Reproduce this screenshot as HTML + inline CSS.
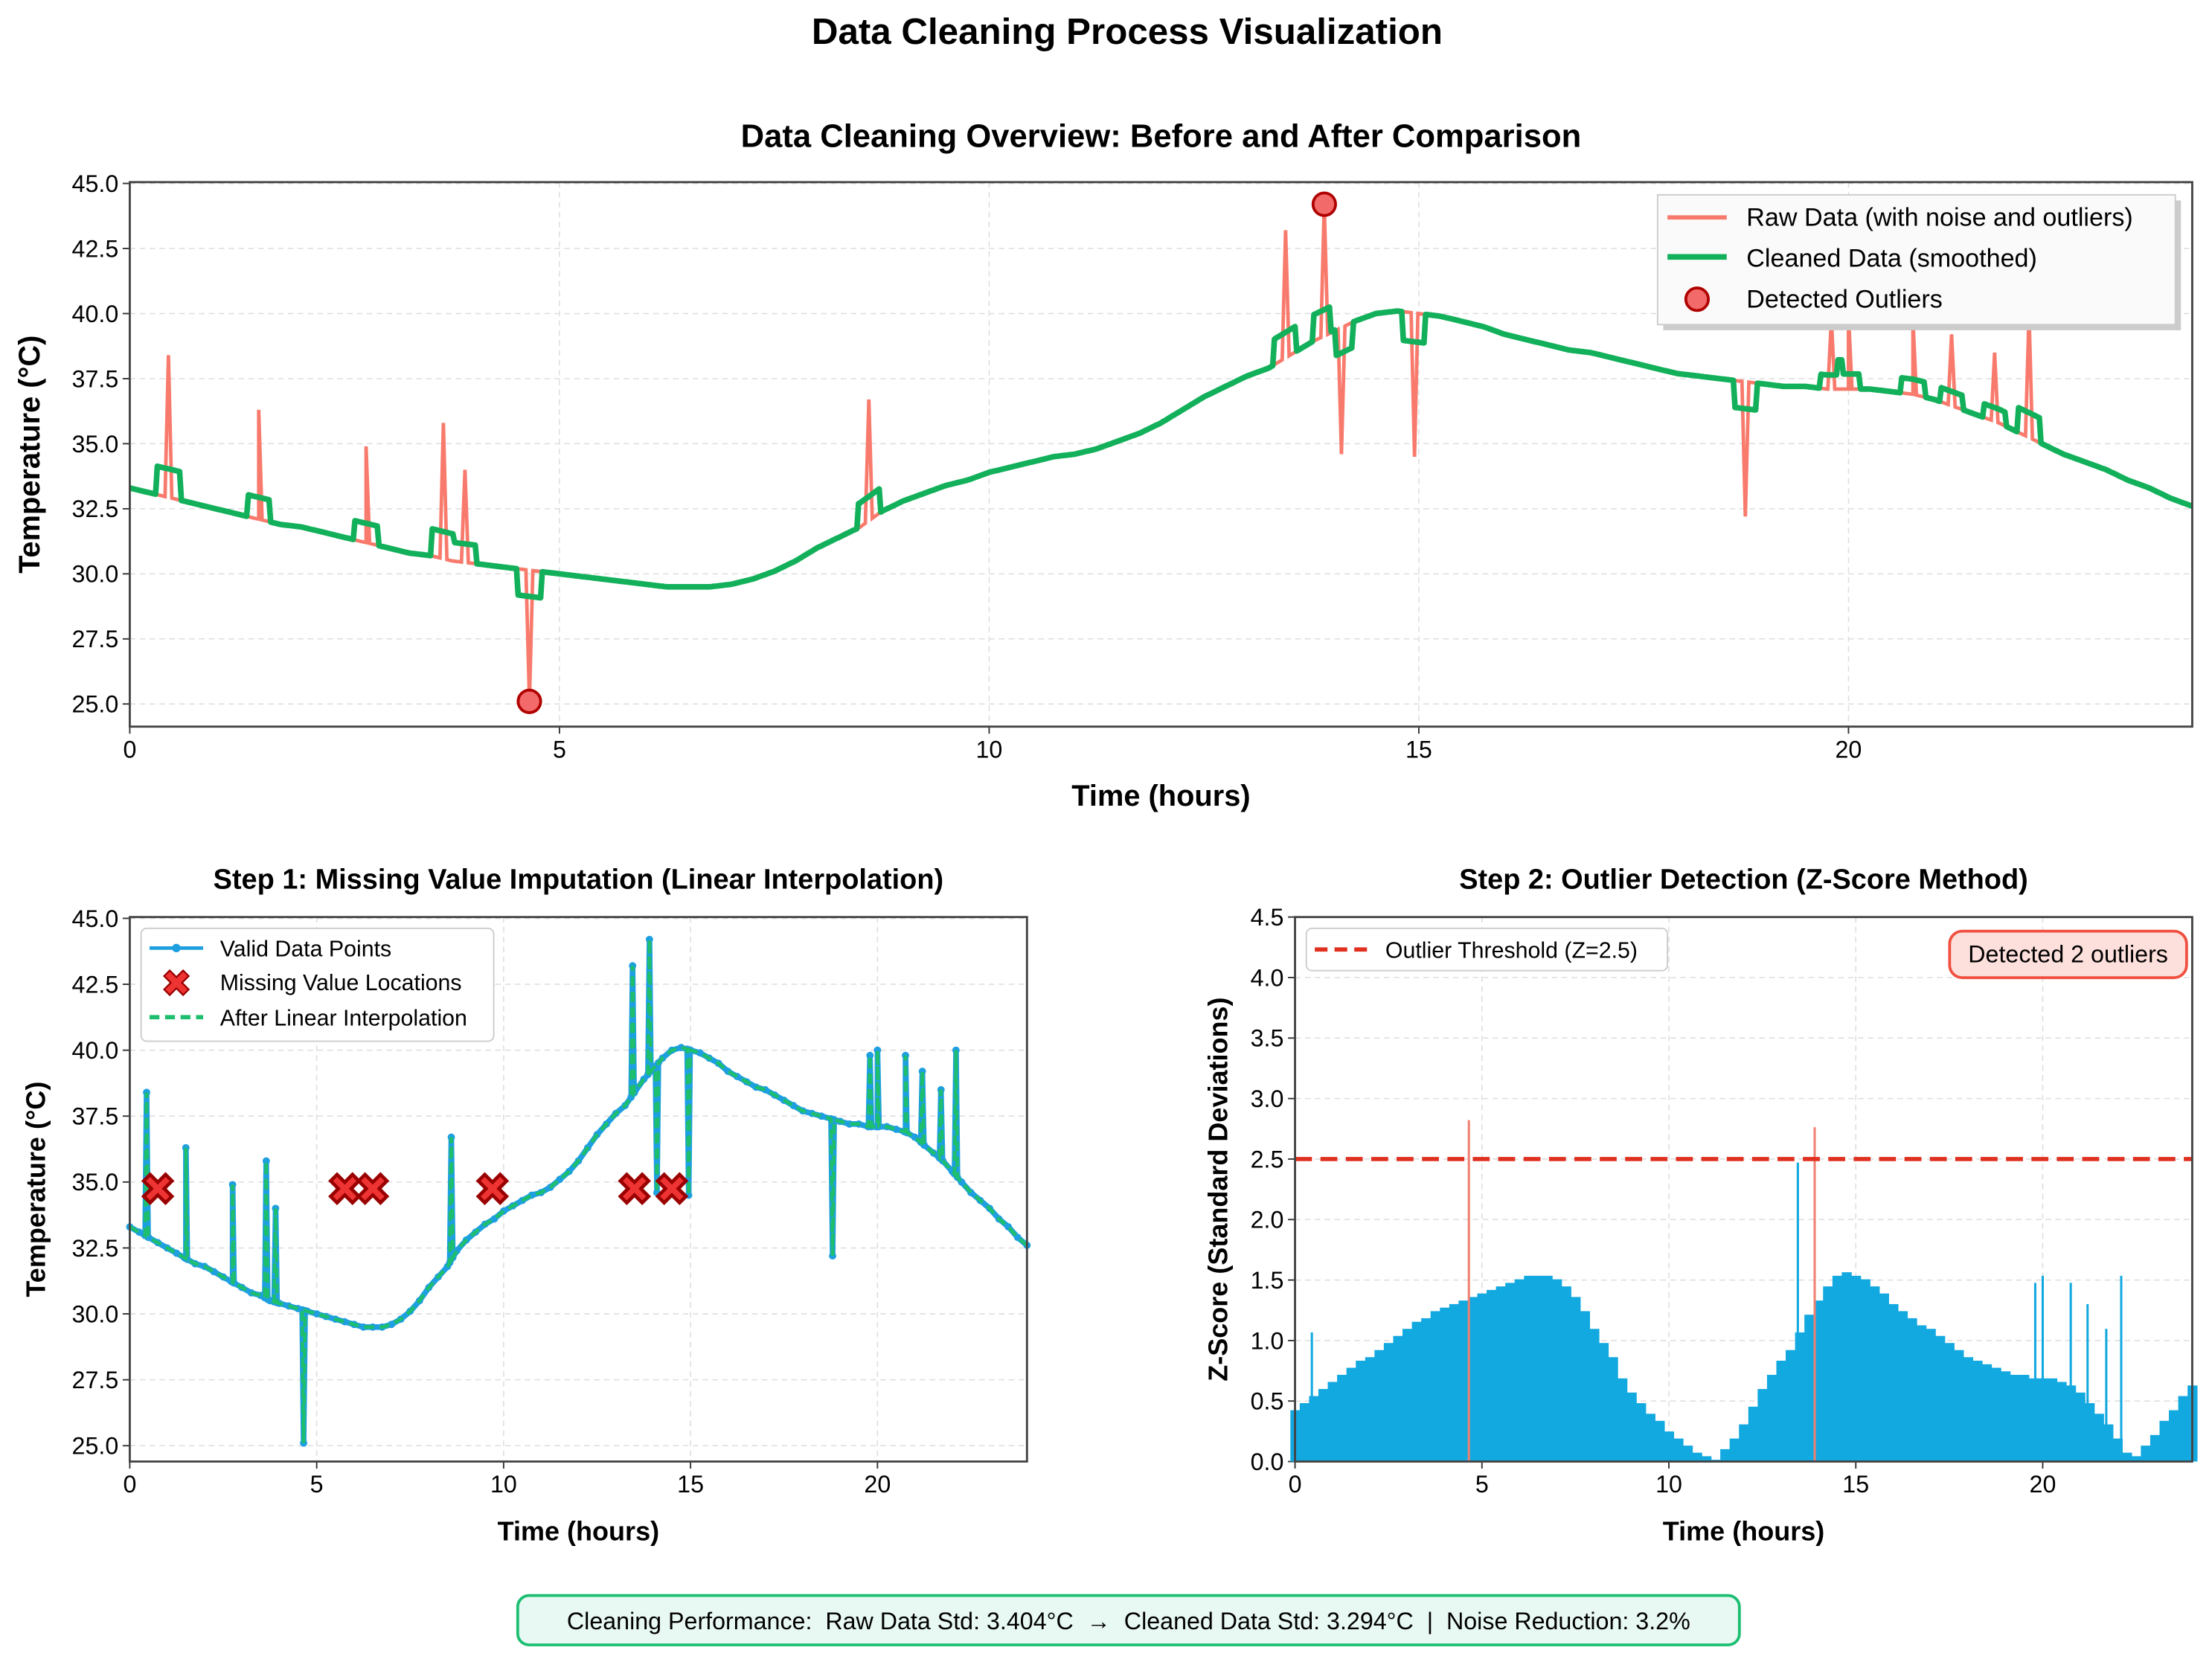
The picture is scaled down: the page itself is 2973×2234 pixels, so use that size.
<!DOCTYPE html>
<html><head><meta charset="utf-8"><style>
html,body{margin:0;padding:0;background:#fff;}
svg{display:block;font-family:"Liberation Sans",sans-serif;}
</style></head><body>
<svg id="fig" width="2973" height="2234" viewBox="0 0 1568 1178" xmlns="http://www.w3.org/2000/svg">
<rect width="1568" height="1178" fill="#fff"/>
<text x="799" y="31" text-anchor="middle" font-size="26" font-weight="bold">Data Cleaning Process Visualization</text>
<text x="823" y="104" text-anchor="middle" font-size="23" font-weight="bold">Data Cleaning Overview: Before and After Comparison</text>
<text x="410" y="630" text-anchor="middle" font-size="20" font-weight="bold">Step 1: Missing Value Imputation (Linear Interpolation)</text>
<text x="1236" y="630" text-anchor="middle" font-size="20" font-weight="bold">Step 2: Outlier Detection (Z-Score Method)</text>
<g id="top"></g><g id="bl"></g><g id="br"></g>
<g>
<rect x="367" y="1131" width="866" height="35" rx="8" fill="#e8f8f2" stroke="#1bbf72" stroke-width="2"/>
<text x="800" y="1155" text-anchor="middle" font-size="17" xml:space="preserve">Cleaning Performance:  Raw Data Std: 3.404°C  →  Cleaned Data Std: 3.294°C  |  Noise Reduction: 3.2%</text>
</g>
</svg>
<script>
const times=[];for(let i=0;i<=96;i++)times.push(i*0.25);
const baseTemp=[33.3,33.1,32.9,32.7,32.5,32.3,32.1,31.9,31.8,31.6,31.4,31.2,31.0,30.8,30.7,30.5,30.4,30.3,30.2,30.1,30.0,29.9,29.8,29.7,29.6,29.5,29.5,29.5,29.6,29.8,30.1,30.5,31.0,31.4,31.8,32.4,32.8,33.1,33.4,33.6,33.9,34.1,34.3,34.5,34.6,34.8,35.1,35.4,35.8,36.3,36.8,37.2,37.6,37.9,38.4,38.9,39.3,39.7,40.0,40.1,40.0,39.9,39.7,39.5,39.2,39.0,38.8,38.6,38.5,38.3,38.1,37.9,37.7,37.6,37.5,37.4,37.3,37.2,37.2,37.1,37.1,37.1,37.0,36.9,36.7,36.4,36.1,35.8,35.4,35.0,34.6,34.3,34.0,33.6,33.3,32.9,32.6];
const spikeTimes=[0.45,1.5,2.75,3.65,3.9,4.65,8.6,13.45,13.9,14.1,14.95,18.8,19.8,20.0,20.75,21.2,21.7,22.1];
const spikeValues=[38.4,36.3,34.9,35.8,34.0,25.1,36.7,43.2,44.2,34.6,34.5,32.2,39.8,40.0,39.8,39.2,38.5,40.0];
const outlierTimes=[4.65,13.9];
const outlierValues=[25.1,44.2];
const missingTimes=[0.75,5.75,6.5,9.7,13.5,14.5];
const missingY=34.7;
const zMean=34.75, zStd=3.42, zThresh=2.5;
const NS='http://www.w3.org/2000/svg';
function mk(tag,at,parent){const e=document.createElementNS(NS,tag);for(const k in at)e.setAttribute(k,at[k]);parent.appendChild(e);return e;}
function baseAt(t){t=Math.max(0,Math.min(24,t));const i=Math.min(95,Math.floor(t/0.25));const f=(t-times[i])/0.25;return baseTemp[i]*(1-f)+baseTemp[i+1]*f;}
function rawSeries(){const pts=times.map((t,i)=>[t,baseTemp[i]]);spikeTimes.forEach((t,k)=>{pts.push([t-0.04,baseAt(t-0.04)]);pts.push([t,spikeValues[k]]);pts.push([t+0.04,baseAt(t+0.04)]);});pts.sort((a,b)=>a[0]-b[0]);return pts;}
function cleanSeries(){const pts=[];for(let s=0;s<=1200;s++){const t=s*0.02;let v=baseAt(t);
 spikeTimes.forEach((st,k)=>{if(Math.abs(t-st)<=0.13)v+=(spikeValues[k]-baseAt(st))/5;});pts.push([t,v]);}return pts;}
function axes(g,o){const X=v=>o.x0+(v-o.xmin)/(o.xmax-o.xmin)*(o.x1-o.x0);const Y=v=>o.y1-(v-o.ymin)/(o.ymax-o.ymin)*(o.y1-o.y0);
 o.xt.forEach(v=>{mk('line',{x1:X(v),x2:X(v),y1:o.y0,y2:o.y1,stroke:'#ddd','stroke-dasharray':'4,3','stroke-width':0.8},g);
  const l=mk('line',{x1:X(v),x2:X(v),y1:o.y1,y2:o.y1+5,stroke:'#333'},g);
  const t=mk('text',{x:X(v),y:o.y1+22,'text-anchor':'middle','font-size':17},g);t.textContent=v;});
 o.yt.forEach(v=>{mk('line',{x1:o.x0,x2:o.x1,y1:Y(v),y2:Y(v),stroke:'#ddd','stroke-dasharray':'4,3','stroke-width':0.8},g);
  mk('line',{x1:o.x0-5,x2:o.x0,y1:Y(v),y2:Y(v),stroke:'#333'},g);
  const t=mk('text',{x:o.x0-8,y:Y(v)+6,'text-anchor':'end','font-size':17},g);t.textContent=v.toFixed(1);});
 const xl=mk('text',{x:(o.x0+o.x1)/2,y:o.y1+56,'text-anchor':'middle','font-size':o.fs,'font-weight':'bold'},g);xl.textContent='Time (hours)';
 const yl=mk('text',{x:o.ylx,y:(o.y0+o.y1)/2,'text-anchor':'middle','font-size':o.fs,'font-weight':'bold',transform:`rotate(-90 ${o.ylx} ${(o.y0+o.y1)/2})`},g);yl.textContent=o.ylabel;
 return {X,Y};}
function frame(g,o){mk('rect',{x:o.x0,y:o.y0,width:o.x1-o.x0,height:o.y1-o.y0,fill:'none',stroke:'#444','stroke-width':1.5},g);}
function path(pts,X,Y){return pts.map((p,i)=>(i?'L':'M')+X(p[0]).toFixed(1)+','+Y(p[1]).toFixed(1)).join('');}
const xt=[0,5,10,15,20];
{const g=document.getElementById('top');const o={x0:92,x1:1554,y0:129,y1:515,xmin:0,xmax:24,ymin:24.13,ymax:45.05,xt,yt:[25,27.5,30,32.5,35,37.5,40,42.5,45],fs:21,ylx:28,ylabel:'Temperature (°C)'};
 const {X,Y}=axes(g,o);
 const r=mk('path',{d:path(rawSeries(),X,Y),fill:'none',stroke:'#f87a6c','stroke-width':2.5},g);
 const c=mk('path',{d:path(cleanSeries(),X,Y),fill:'none',stroke:'#12b05a','stroke-width':4,'stroke-linejoin':'round'},g);
 outlierTimes.forEach((t,i)=>{const m=mk('circle',{cx:X(t),cy:Y(outlierValues[i]),r:8,fill:'#f26a6a',stroke:'#b00000','stroke-width':2},g);});
 frame(g,o);
 const lg=mk('g',{},g);
 mk('rect',{x:1179,y:142,width:367,height:92,fill:'#ccc'},lg);mk('rect',{x:1175,y:138,width:367,height:92,fill:'#fafafa',stroke:'#ccc'},lg);
 mk('line',{x1:1182,x2:1224,y1:154,y2:154,stroke:'#f87a6c','stroke-width':3},lg);
 mk('line',{x1:1182,x2:1224,y1:182,y2:182,stroke:'#12b05a','stroke-width':4},lg);
 mk('circle',{cx:1203,cy:212,r:8,fill:'#f26a6a',stroke:'#b00000','stroke-width':2},lg);
 [['Raw Data (with noise and outliers)',160],['Cleaned Data (smoothed)',189],['Detected Outliers',218]].forEach(a=>{const t=mk('text',{x:1238,y:a[1],'font-size':18},lg);t.textContent=a[0];});
}
{const g=document.getElementById('bl');const o={x0:92,x1:728,y0:650,y1:1036,xmin:0,xmax:24,ymin:24.4,ymax:45.05,xt,yt:[25,27.5,30,32.5,35,37.5,40,42.5,45],fs:19,ylx:32,ylabel:'Temperature (°C)'};
 const {X,Y}=axes(g,o);const raw=rawSeries();
 const b=mk('path',{d:path(raw,X,Y),fill:'none',stroke:'#1e9fe0','stroke-width':4},g);
 raw.forEach(p=>{const d=mk('circle',{cx:X(p[0]),cy:Y(p[1]),r:2.6,fill:'#1e9fe0'},g);});
 const gl=mk('path',{d:path(raw,X,Y),fill:'none',stroke:'#1dbf6e','stroke-width':2.5,'stroke-dasharray':'7,4'},g);
 missingTimes.forEach(t=>{const m=mk('text',{x:X(t),y:Y(missingY)+10,'text-anchor':'middle','font-size':30,'font-weight':'bold',fill:'#e33',stroke:'#900','stroke-width':1.5},g);m.textContent='✖';});
 frame(g,o);
 const lg=mk('g',{},g);
 mk('rect',{x:100,y:658,width:250,height:80,rx:4,fill:'#fff',stroke:'#ccc'},lg);
 mk('line',{x1:106,x2:144,y1:672,y2:672,stroke:'#1e9fe0','stroke-width':2.5},lg);mk('circle',{cx:125,cy:672,r:3,fill:'#1e9fe0'},lg);
 const xx=mk('text',{x:125,y:706,'text-anchor':'middle','font-size':26,fill:'#e33',stroke:'#900','stroke-width':1.2},lg);xx.textContent='✖';
 mk('line',{x1:106,x2:144,y1:721,y2:721,stroke:'#1dbf6e','stroke-width':3,'stroke-dasharray':'7,4'},lg);
 [['Valid Data Points',678],['Missing Value Locations',702],['After Linear Interpolation',727]].forEach(a=>{const t=mk('text',{x:156,y:a[1],'font-size':16},lg);t.textContent=a[0];});
}
{const g=document.getElementById('br');const o={x0:918,x1:1554,y0:650,y1:1036,xmin:0,xmax:24,ymin:0,ymax:4.5,xt,yt:[0,0.5,1,1.5,2,2.5,3,3.5,4,4.5],fs:19,ylx:870,ylabel:'Z-Score (Standard Deviations)'};
 const {X,Y}=axes(g,o);const w=X(0.25)-X(0);
 times.forEach((t,i)=>{const z=Math.abs(baseTemp[i]-zMean)/zStd;const r=mk('rect',{x:X(t)-w/2,y:Y(z),width:w+0.4,height:Y(0)-Y(z),fill:'#12a8e0'},g);});
 spikeTimes.forEach((t,k)=>{const z=Math.abs(spikeValues[k]-zMean)/zStd;const r=mk('rect',{x:X(t)-0.8,y:Y(z),width:1.6,height:Y(0)-Y(z),fill:z>zThresh?'#f08070':'#12a8e0'},g);});
 const th=mk('line',{x1:918,x2:1554,y1:Y(zThresh),y2:Y(zThresh),stroke:'#e03020','stroke-width':3,'stroke-dasharray':'12,6'},g);
 frame(g,o);
 const lg=mk('g',{},g);
 mk('rect',{x:926,y:658,width:256,height:30,rx:4,fill:'#fff',stroke:'#ccc'},lg);
 mk('line',{x1:932,x2:972,y1:673,y2:673,stroke:'#e03020','stroke-width':3,'stroke-dasharray':'9,5'},lg);
 const t=mk('text',{x:982,y:679,'font-size':16},lg);t.textContent='Outlier Threshold (Z=2.5)';
 const bx=mk('g',{},g);
 mk('rect',{x:1382,y:660,width:168,height:33,rx:9,fill:'#fde0dc',stroke:'#f05040','stroke-width':2},bx);
 const t2=mk('text',{x:1466,y:682,'text-anchor':'middle','font-size':17},bx);t2.textContent='Detected 2 outliers';
}
</script>
</body></html>
